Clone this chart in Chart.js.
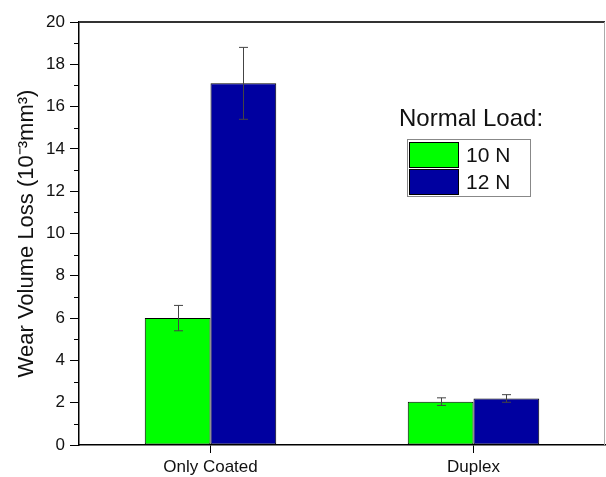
<!DOCTYPE html>
<html>
<head>
<meta charset="utf-8">
<script src="https://cdn.jsdelivr.net/npm/chart.js@4.4.1/dist/chart.umd.min.js"></script>
<style>
  body { margin: 0; background: #fff; }
  #wrap { width: 606px; height: 477px; }
</style>
</head>
<body>
<div id="wrap"><canvas id="myChart" width="606" height="477"></canvas></div>
<script>
var categories = ["Only Coated", "Duplex"];
var loads = ["10 N", "12 N"];
var values10 = [6.0, 2.05];
var values12 = [17.1, 2.2];
var err10 = [0.6, 0.18];
var err12 = [1.7, 0.18];
var colors = ["#00ff00", "#0000a0"];
var yTicks = [0, 2, 4, 6, 8, 10, 12, 14, 16, 18, 20];

var errors = [err10, err12];
var font = "'Liberation Sans', Arial, sans-serif";

// error bars drawn from the dataset's own bar elements
var errorBars = {
  id: 'errorBars',
  afterDatasetsDraw: function(chart) {
    var ctx = chart.ctx;
    var y = chart.scales.y;
    ctx.save();
    ctx.strokeStyle = '#444';
    ctx.lineWidth = 1;
    chart.data.datasets.forEach(function(ds, i) {
      var meta = chart.getDatasetMeta(i);
      meta.data.forEach(function(bar, j) {
        var v = ds.data[j], e = errors[i][j];
        var x = Math.round(bar.x) + 0.5;
        var top = y.getPixelForValue(v + e), bot = y.getPixelForValue(v - e);
        ctx.beginPath();
        ctx.moveTo(x, top); ctx.lineTo(x, bot);
        ctx.moveTo(x - 4.5, top); ctx.lineTo(x + 4.5, top);
        ctx.moveTo(x - 4.5, bot); ctx.lineTo(x + 4.5, bot);
        ctx.stroke();
      });
    });
    ctx.restore();
  }
};

// minor ticks, frame and legend box
var extras = {
  id: 'extras',
  afterDraw: function(chart) {
    var ctx = chart.ctx;
    var a = chart.chartArea;
    var y = chart.scales.y;
    ctx.save();
    ctx.strokeStyle = '#000';
    ctx.lineWidth = 1;
    for (var v = 1; v < 20; v += 2) {
      var py = Math.round(y.getPixelForValue(v)) + 0.5;
      ctx.beginPath();
      ctx.moveTo(a.left - 5, py); ctx.lineTo(a.left, py);
      ctx.stroke();
    }
    // top and right frame
    ctx.strokeStyle = '#333';
    ctx.lineWidth = 2;
    ctx.beginPath();
    ctx.moveTo(a.left, a.top); ctx.lineTo(a.right, a.top);
    ctx.stroke();
    ctx.strokeStyle = '#aaa';
    ctx.lineWidth = 1;
    ctx.beginPath();
    ctx.moveTo(a.right - 0.5, a.top); ctx.lineTo(a.right - 0.5, a.bottom);
    ctx.stroke();

    // legend
    ctx.fillStyle = '#111';
    ctx.font = "24px " + font;
    ctx.textBaseline = 'middle';
    ctx.textAlign = 'left';
    ctx.fillText("Normal Load:", 399, 119);
    ctx.strokeStyle = '#888';
    ctx.lineWidth = 1;
    ctx.strokeRect(407.5, 139.5, 123, 57);
    chart.data.datasets.forEach(function(ds, i) {
      var sy = 142 + i * 27;
      ctx.fillStyle = ds.backgroundColor;
      ctx.fillRect(409, sy, 50, 26);
      ctx.strokeStyle = '#000';
      ctx.strokeRect(409.5, sy + 0.5, 49, 25);
      ctx.fillStyle = '#111';
      ctx.font = "21px " + font;
      ctx.fillText(ds.label, 466, sy + 14);
    });
    ctx.restore();
  }
};

new Chart(document.getElementById("myChart"), {
  type: 'bar',
  data: {
    labels: categories,
    datasets: [{
      label: loads[0],
      data: values10,
      backgroundColor: colors[0],
      borderColor: '#000',
      borderWidth: 1,
      borderSkipped: false
    }, {
      label: loads[1],
      data: values12,
      backgroundColor: colors[1],
      borderColor: '#000',
      borderWidth: 1,
      borderSkipped: false
    }]
  },
  options: {
    responsive: false,
    animation: false,
    layout: { padding: { top: 22, right: 1, left: 0, bottom: 0 } },
    datasets: { bar: { barPercentage: 1, categoryPercentage: 0.5 } },
    plugins: { legend: { display: false }, tooltip: { enabled: false } },
    scales: {
      x: {
        offset: true,
        grid: { offset: false, drawOnChartArea: false, tickLength: 8, color: '#000', tickWidth: 1 },
        border: { color: '#000', width: 1.5 },
        ticks: { color: '#111', padding: 4, font: { family: font, size: 17 } },
        afterFit: function(s) { s.height = 32; }
      },
      y: {
        min: 0,
        max: 20,
        afterBuildTicks: function(s) { s.ticks = yTicks.map(function(v) { return { value: v }; }); },
        grid: { drawOnChartArea: false, tickLength: 9, color: '#000', tickWidth: 1 },
        border: { color: '#000', width: 1.5 },
        ticks: { color: '#111', padding: 5, font: { family: font, size: 17 } },
        title: {
          display: true,
          text: "Wear Volume Loss (10\u207B\u00B3mm\u00B3)",
          color: '#111',
          font: { family: font, size: 22 },
          padding: { top: 14, bottom: 0 }
        },
        afterFit: function(s) { s.width = 79; }
      }
    }
  },
  plugins: [errorBars, extras]
});
</script>
</body>
</html>
